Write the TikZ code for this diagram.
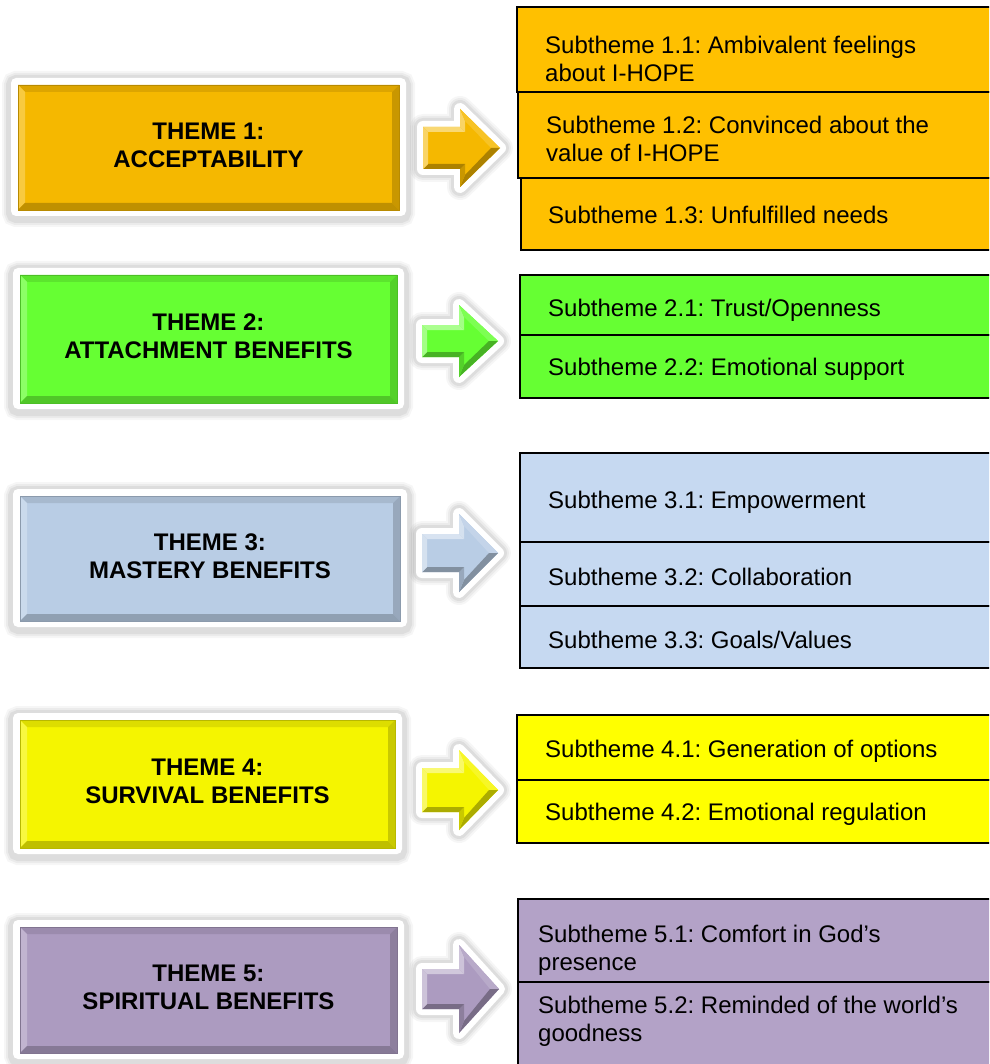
\documentclass[tikz,border=0pt]{standalone}
\usepackage{fontspec}
\setmainfont{Liberation Sans}
\frenchspacing

% face colours of the theme panels (A) and subtheme cells (B)
\definecolor{orA}{RGB}{245,184,0}
\definecolor{orB}{RGB}{255,192,0}
\definecolor{grA}{RGB}{102,255,51}
\definecolor{blA}{RGB}{185,205,229}
\definecolor{blB}{RGB}{198,217,241}
\definecolor{ylA}{RGB}{245,245,0}
\definecolor{ylB}{RGB}{255,255,0}
\definecolor{puA}{RGB}{172,155,192}
\definecolor{puB}{RGB}{179,162,199}

% bevelled face: left, top, right, bottom, colour
\newcommand\bevelface[5]{%
  \fill[#5] (#1,#2) rectangle (#3,#4);
  \fill[#5!90!black] (#1,#2) -- (#3,#2) -- (#3-7,#2+7) -- (#1+7,#2+7) -- cycle;
  \fill[#5!75!white] (#1,#2) -- (#1+7,#2+7) -- (#1+7,#4-7) -- (#1,#4) -- cycle;
  \fill[#5!82!black] (#3,#2) -- (#3,#4) -- (#3-7,#4-7) -- (#3-7,#2+7) -- cycle;
  \fill[#5!78!black] (#1,#4) -- (#3,#4) -- (#3-7,#4-7) -- (#1+7,#4-7) -- cycle;
  \draw[#5!75!black, line width=0.6pt] (#1,#2) rectangle (#3,#4);
}

% theme panel: name, left, top, right, bottom, colour, label
\newcommand\themepanel[7]{%
  \foreach \gw/\go in {18/0.035,14/0.045,10/0.06}{
    \draw[black, opacity=\go, line width=\gw pt, rounded corners=5pt] (#2,#3+2) rectangle (#4,#5+2);}
  \fill[white, rounded corners=5pt] (#2,#3) rectangle (#4,#5);
  \bevelface{#2+7}{#3+7}{#4-7}{#5-6}{#6}
  \node[themetext] (#1) at ({(#2+#4)/2},{(#3+#5)/2-2}) {#7};
}

% bevelled block arrow: centre y, shaft half height, head half height, colour, left x, tip x
\newcommand\blockarrow[6]{%
  \coordinate (O1) at (#5,{#1-#2});
  \coordinate (O2) at ({#5+37},{#1-#2});
  \coordinate (O3) at ({#5+37},{#1-#3});
  \coordinate (O4) at (#6,#1);
  \coordinate (O5) at ({#5+37},{#1+#3});
  \coordinate (O6) at ({#5+37},{#1+#2});
  \coordinate (O7) at (#5,{#1+#2});
  \coordinate (I1) at ({#5+5},{#1-#2+5});
  \coordinate (I2) at ({#5+42},{#1-#2+5});
  \coordinate (I3) at ({#5+42},{#1-#3+12});
  \coordinate (I4) at ({#6-9},#1);
  \coordinate (I5) at ({#5+42},{#1+#3-12});
  \coordinate (I6) at ({#5+42},{#1+#2-5});
  \coordinate (I7) at ({#5+5},{#1+#2-5});
  \foreach \gw/\go in {26/0.035,22/0.045,18/0.06}{
    \draw[black, opacity=\go, line width=\gw pt, line join=round, yshift=-2pt]
      (O1)--(O2)--(O3)--(O4)--(O5)--(O6)--(O7)--cycle;}
  \draw[white, fill=white, line width=12pt, line join=round]
      (O1)--(O2)--(O3)--(O4)--(O5)--(O6)--(O7)--cycle;
  \fill[#4] (O1)--(O2)--(O3)--(O4)--(O5)--(O6)--(O7)--cycle;
  \fill[#4!55!white] (O1)--(O2)--(I2)--(I1)--cycle;
  \fill[#4!60!white] (O2)--(O3)--(I3)--(I2)--cycle;
  \fill[#4!85!white] (O3)--(O4)--(I4)--(I3)--cycle;
  \fill[#4!70!black] (O4)--(O5)--(I5)--(I4)--cycle;
  \fill[#4!82!black] (O5)--(O6)--(I6)--(I5)--cycle;
  \fill[#4!70!black] (O6)--(O7)--(I7)--(I6)--cycle;
  \fill[#4!60!white] (O7)--(O1)--(I1)--(I7)--cycle;
}

\begin{document}
\begin{tikzpicture}[x=1pt, y=-1pt,
  cell/.style={draw=black, line width=1.6pt},
  subtext/.style={anchor=west, align=left, inner sep=0pt,
    font=\fontsize{24}{27.6}\selectfont},
  themetext/.style={align=center, inner sep=0pt,
    font=\fontsize{24}{28}\selectfont\bfseries},
]
\useasboundingbox (0,0) rectangle (989,1064);
\clip (0,0) rectangle (989,1064);

% ---- theme panels ----
\themepanel{t1}{11}{78}{406}{216}{orA}{THEME 1:\\ACCEPTABILITY}
\themepanel{t2}{13}{268}{404}{409}{grA}{THEME 2:\\ATTACHMENT BENEFITS}
\themepanel{t3}{13}{489}{407}{627}{blA}{THEME 3:\\MASTERY BENEFITS}
\themepanel{t4}{13}{713}{402}{854}{ylA}{THEME 4:\\SURVIVAL BENEFITS}
\themepanel{t5}{13}{920}{404}{1059}{puA}{THEME 5:\\SPIRITUAL BENEFITS}

% ---- block arrows ----
\blockarrow{148}{21}{39}{orA}{423}{500}
\blockarrow{341}{16}{36}{grA}{422}{498}
\blockarrow{553}{19}{39}{blA}{422}{498}
\blockarrow{790}{22}{40}{ylA}{422}{498}
\blockarrow{989}{20}{44}{puA}{422}{499}

% ---- subtheme cells ----
\draw[cell, fill=orB] (517,7) rectangle (995,92);
\draw[cell, fill=orB] (518,92) rectangle (995,178);
\draw[cell, fill=orB] (521,178) rectangle (995,250);
\node[subtext] (s11) at (545,59) {Subtheme 1.1: Ambivalent feelings\\about I-HOPE};
\node[subtext] (s12) at (546,139) {Subtheme 1.2: Convinced about the\\value of I-HOPE};
\node[subtext] (s13) at (548,215) {Subtheme 1.3: Unfulfilled needs};

\draw[cell, fill=grA] (520,275) rectangle (995,335);
\draw[cell, fill=grA] (520,335) rectangle (995,398);
\node[subtext] (s21) at (548,310) {Subtheme 2.1: Trust/Openness};
\node[subtext] (s22) at (548,369) {Subtheme 2.2: Emotional support};

\draw[cell, fill=blB] (520,453) rectangle (995,542);
\draw[cell, fill=blB] (520,542) rectangle (995,606);
\draw[cell, fill=blB] (520,606) rectangle (995,668);
\node[subtext] (s31) at (548,502) {Subtheme 3.1: Empowerment};
\node[subtext] (s32) at (548,577) {Subtheme 3.2: Collaboration};
\node[subtext] (s33) at (548,640) {Subtheme 3.3: Goals/Values};

\draw[cell, fill=ylB] (517,715) rectangle (995,780);
\draw[cell, fill=ylB] (517,780) rectangle (995,843);
\node[subtext] (s41) at (545,751) {Subtheme 4.1: Generation of options};
\node[subtext] (s42) at (545,814) {Subtheme 4.2: Emotional regulation};

\draw[cell, fill=puB] (518,899) rectangle (995,982);
\draw[cell, fill=puB] (518,982) rectangle (995,1072);
\node[subtext] (s51) at (538,950) {Subtheme 5.1: Comfort in God’s\\presence};
\node[subtext] (s52) at (538,1021) {Subtheme 5.2: Reminded of the world’s\\goodness};
\end{tikzpicture}
\end{document}
